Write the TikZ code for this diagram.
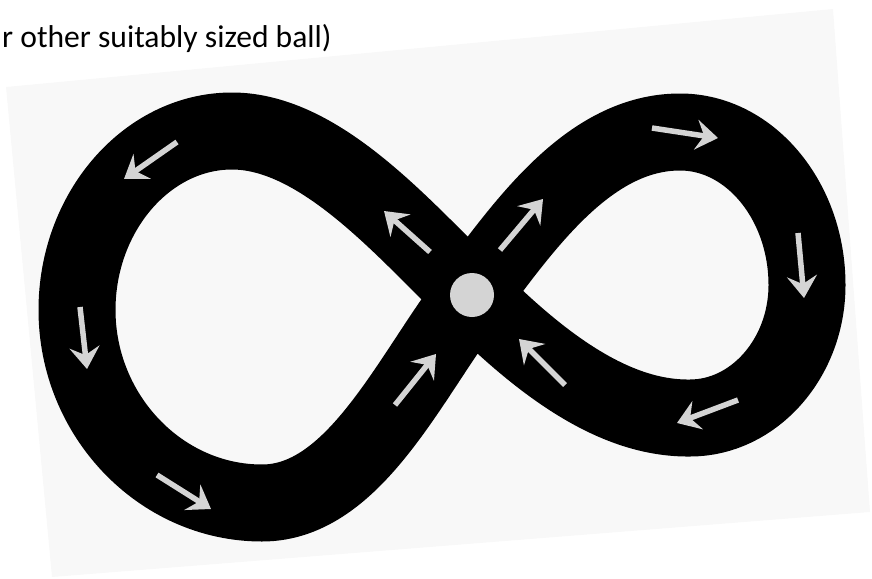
\documentclass[tikz,border=0pt]{standalone}
\usepackage{fontspec}
\newfontfamily\notefont{Carlito}
\usetikzlibrary{arrows.meta}
\definecolor{paper}{RGB}{248,248,248}
\definecolor{lightgrey}{RGB}{212,212,212}

\begin{document}
\begin{tikzpicture}[x=1pt, y=-1pt,
    track/.style={line width=77pt, black, line join=round},
    flow/.style={-{Stealth[length=22pt, width=30pt, inset=8pt]}, line width=5.5pt, color=lightgrey},
    ball/.style={circle, fill=lightgrey, minimum size=44pt, inner sep=0pt}
  ]
  \useasboundingbox (0,0) rectangle (872,578);
  % tilted photo background
  \fill[paper] (6,87) -- (833,9) -- (870,512) -- (52,577) -- cycle;

  \node[anchor=base west, inner sep=0pt, font=\notefont\fontsize{31.6}{38}\selectfont]
    (caption) at (2,48) {r other suitably sized ball)};

  % figure-eight track
  \draw[track] (472,295)
     .. controls (526,223) and (590,132) .. (680,132)
     .. controls (750,132) and (807,201) .. (807,285)
     .. controls (807,358) and (754,418) .. (690,418)
     .. controls (615,419) and (543,366) .. (472,295)
     .. controls (407,233) and (322,131) .. (232,131)
     .. controls (147,131) and (77,212) .. (77,310)
     .. controls (77,415) and (160,503) .. (262,503)
     .. controls (355,503) and (410,376) .. (472,295) -- cycle;

  % direction of travel
  \foreach \a/\b in {{177,142}/{124,179}, {80,307}/{87,369}, {157,475}/{211,509},
                     {395,405}/{436,354}, {430,252}/{384,211}, {500,250}/{543,199},
                     {652,128}/{718,138}, {798,233}/{804,298}, {738,400}/{677,423},
                     {565,385}/{519,339}}
    \draw[flow] (\a) -- (\b);

  \node[ball] (ball) at (472,295) {};
\end{tikzpicture}
\end{document}
